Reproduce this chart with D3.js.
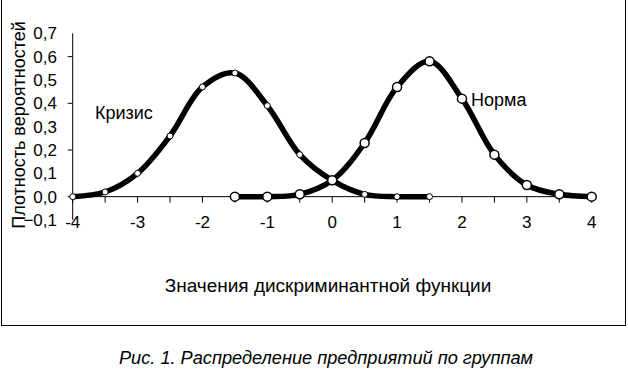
<!DOCTYPE html>
<html>
<head>
<meta charset="utf-8">
<script src="https://cdn.jsdelivr.net/npm/d3@7"></script>
<style>
  body { margin: 0; background: #fff; }
  svg { display: block; font-family: "Liberation Sans", Arial, sans-serif; }
</style>
</head>
<body>
<svg id="chart" width="628" height="375"></svg>
<script>
// --- data
const crisisX = [-4, -3.5, -3, -2.5, -2, -1.5, -1, -0.5, 0, 0.5, 1, 1.5];
const crisisY = [0.0, 0.02, 0.10, 0.26, 0.47, 0.53, 0.39, 0.18, 0.07, 0.01, 0.0, 0.0];
const normX = [-1.5, -1, -0.5, 0, 0.5, 1, 1.5, 2, 2.5, 3, 3.5, 4];
const normY = [0.0, 0.0, 0.01, 0.07, 0.23, 0.47, 0.58, 0.42, 0.18, 0.05, 0.01, 0.0];
const xTicks = [-4, -3, -2, -1, 0, 1, 2, 3, 4];
const xMinorTicks = [-4, -3.5, -3, -2.5, -2, -1.5, -1, -0.5, 0, 0.5, 1, 1.5, 2, 2.5, 3, 3.5, 4];
const yLabels = [-0.1, 0.0, 0.1, 0.2, 0.3, 0.4, 0.5, 0.6, 0.7];
const yTickMarks = [0.0, 0.2, 0.4, 0.6];

const svg = d3.select('#chart');

// outer frame
svg.append('rect')
  .attr('x', 1.5).attr('y', -1)
  .attr('width', 624).attr('height', 326.5)
  .attr('fill', 'none').attr('stroke', '#000').attr('stroke-width', 1);

const x = d3.scaleLinear().domain([-4, 4]).range([72.7, 591.7]);
const y = d3.scaleLinear().domain([-0.1, 0.7]).range([220, 33.3]);
const fmt = d => d3.format('.1f')(d).replace('.', ',');

// y axis
svg.append('line')
  .attr('x1', x(-4)).attr('x2', x(-4))
  .attr('y1', y(0.7)).attr('y2', y(-0.1))
  .attr('stroke', '#000');
svg.selectAll('.ytick').data(yTickMarks).enter().append('line')
  .attr('x1', x(-4) - 5).attr('x2', x(-4))
  .attr('y1', d => y(d)).attr('y2', d => y(d))
  .attr('stroke', '#000');
svg.selectAll('.ylab').data(yLabels).enter().append('text')
  .attr('x', 57).attr('y', d => y(d))
  .attr('dy', '0.36em')
  .attr('text-anchor', 'end')
  .attr('font-size', 17)
  .text(fmt);

// x axis at zero
svg.append('line')
  .attr('x1', x(-4)).attr('x2', x(4))
  .attr('y1', y(0)).attr('y2', y(0))
  .attr('stroke', '#000');
svg.selectAll('.xtick').data(xMinorTicks).enter().append('line')
  .attr('x1', d => x(d)).attr('x2', d => x(d))
  .attr('y1', y(0)).attr('y2', y(0) + 6)
  .attr('stroke', '#000');
svg.selectAll('.xlab').data(xTicks).enter().append('text')
  .attr('x', d => x(d)).attr('y', 222)
  .attr('dy', '0.36em')
  .attr('text-anchor', 'middle')
  .attr('font-size', 17)
  .text(d => d < 0 ? '-' + Math.abs(d) : d);

// titles
svg.append('text')
  .attr('transform', 'translate(24.5,125) rotate(-90)')
  .attr('text-anchor', 'middle')
  .attr('font-size', 18)
  .text('Плотность вероятностей');
svg.append('text')
  .attr('x', 328).attr('y', 292)
  .attr('text-anchor', 'middle')
  .attr('font-size', 19)
  .text('Значения дискриминантной функции');
svg.append('text')
  .attr('x', 326).attr('y', 364)
  .attr('text-anchor', 'middle')
  .attr('font-size', 18.2)
  .attr('font-style', 'italic')
  .attr('font-family', '"Liberation Sans Narrow", "Liberation Sans", Arial, sans-serif')
  .text('Рис. 1. Распределение предприятий по группам');

// curves
const line = d3.line()
  .x(d => x(d[0])).y(d => y(d[1]))
  .curve(d3.curveCatmullRom.alpha(0.5));

const crisis = d3.zip(crisisX, crisisY);
const norm = d3.zip(normX, normY);

[crisis, norm].forEach(s => {
  svg.append('path')
    .datum(s)
    .attr('d', line)
    .attr('fill', 'none')
    .attr('stroke', '#000')
    .attr('stroke-width', 5.5)
    .attr('stroke-linejoin', 'round');
});

svg.selectAll('.cm').data(crisis).enter().append('circle')
  .attr('cx', d => x(d[0])).attr('cy', d => y(d[1]))
  .attr('r', 3).attr('fill', '#fff').attr('stroke', '#000').attr('stroke-width', 1);
svg.selectAll('.nm').data(norm).enter().append('circle')
  .attr('cx', d => x(d[0])).attr('cy', d => y(d[1]))
  .attr('r', 4.5).attr('fill', '#fff').attr('stroke', '#000').attr('stroke-width', 1.5);

// series labels
svg.append('text')
  .attr('x', 95).attr('y', 113).attr('dy', '0.36em')
  .attr('font-size', 18)
  .text('Кризис');
svg.append('text')
  .attr('x', 471).attr('y', 100).attr('dy', '0.36em')
  .attr('font-size', 18)
  .text('Норма');
</script>
</body>
</html>
